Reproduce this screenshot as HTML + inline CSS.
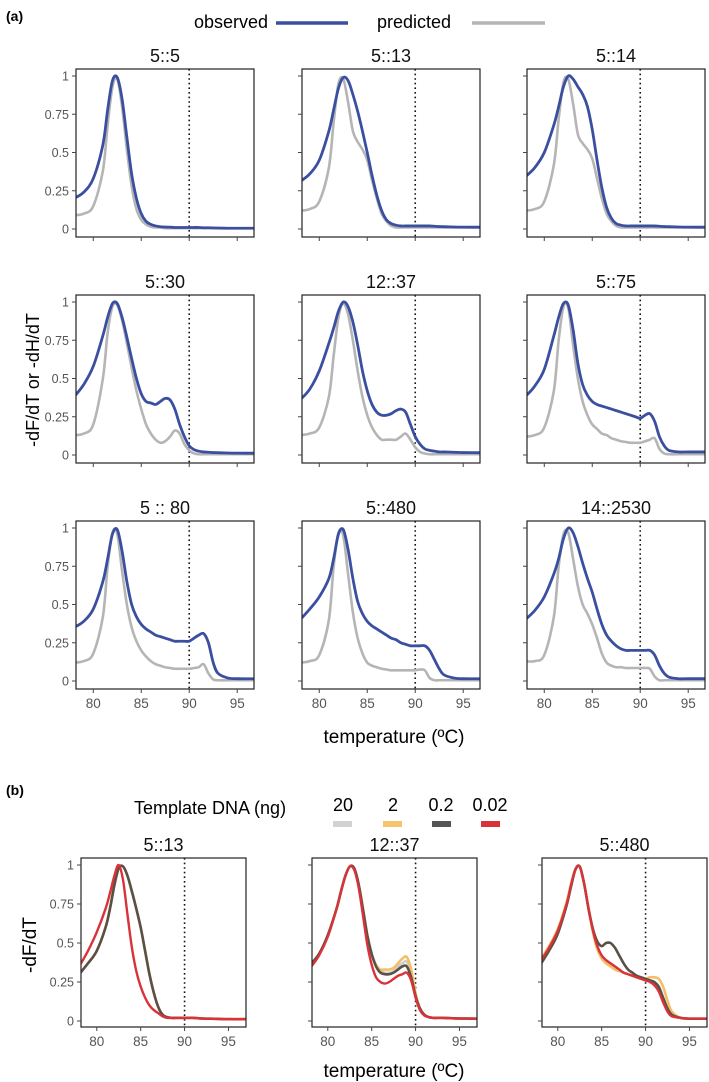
<!DOCTYPE html>
<html><head><meta charset="utf-8">
<style>
body{margin:0;background:#fff;}
svg{display:block;font-family:"Liberation Sans","DejaVu Sans",sans-serif;}
.tk{font-size:12.5px;fill:#555;}
.ttl{font-size:18px;fill:#111;}
</style></head>
<body>
<svg id="fig" width="709" height="1082" viewBox="0 0 709 1082" xmlns="http://www.w3.org/2000/svg">
<text x="6" y="21" font-size="14" font-weight="bold">(a)</text>
<text x="268" y="28" font-size="18" text-anchor="end">observed</text>
<line x1="276" y1="23" x2="348" y2="23" stroke="#3a4fa0" stroke-width="3.5"/>
<text x="377" y="28" font-size="18">predicted</text>
<line x1="472" y1="23" x2="545" y2="23" stroke="#b4b4b4" stroke-width="3.5"/>
<text transform="translate(39,380) rotate(-90)" font-size="18" text-anchor="middle">-dF/dT or -dH/dT</text>
<text x="394" y="743" font-size="19" text-anchor="middle">temperature (ºC)</text>
<text x="6" y="795" font-size="14" font-weight="bold">(b)</text>
<text x="134" y="814" font-size="18">Template DNA (ng)</text>
<g>
<text x="343" y="811" font-size="18" text-anchor="middle">20</text>
<rect x="333" y="821" width="19" height="6" fill="#d2d2d2"/>
<text x="393" y="811" font-size="18" text-anchor="middle">2</text>
<rect x="383" y="821" width="19" height="6" fill="#f6c36e"/>
<text x="441" y="811" font-size="18" text-anchor="middle">0.2</text>
<rect x="432" y="821" width="19" height="6" fill="#555555"/>
<text x="490" y="811" font-size="18" text-anchor="middle">0.02</text>
<rect x="481" y="821" width="19" height="6" fill="#d8323a"/>
</g>
<text transform="translate(36,945) rotate(-90)" font-size="19" text-anchor="middle">-dF/dT</text>
<text x="394" y="1077" font-size="19" text-anchor="middle">temperature (ºC)</text>
</svg>
<script>
const T = [78,79,80,81,81.5,82,82.5,83,83.5,84,84.5,85,85.5,86,86.5,87,87.5,88,88.5,89,89.5,90,90.5,91,91.5,92,92.5,93,94,95,97];
const yTicks = [0,0.25,0.5,0.75,1];
const yTickLabels = ["0","0.25","0.5","0.75","1"];
const xTicks = [80,85,90,95];
const xTickLabels = ["80","85","90","95"];
const titlesA = ["5::5","5::13","5::14","5::30","12::37","5::75","5 :: 80","5::480","14::2530"];
const obsA = [
[.20,.24,.33,.55,.78,.97,.99,.85,.60,.36,.20,.10,.05,.03,.02,.015,.013,.012,.01,.01,.01,.01,.01,.01,.008,.008,.007,.006,.005,.005,.005],
[.31,.36,.45,.64,.78,.92,.99,.97,.88,.77,.64,.50,.35,.22,.12,.06,.035,.025,.02,.02,.02,.02,.02,.02,.02,.018,.016,.015,.013,.012,.012],
[.34,.40,.50,.68,.80,.93,1,.98,.93,.88,.80,.65,.45,.27,.14,.07,.035,.025,.02,.02,.02,.02,.02,.02,.02,.018,.016,.015,.013,.012,.012],
[.38,.46,.58,.78,.90,.99,.99,.90,.77,.63,.50,.40,.35,.34,.33,.35,.37,.36,.30,.20,.12,.06,.035,.025,.02,.018,.016,.015,.013,.012,.012],
[.36,.43,.55,.73,.83,.94,1,.97,.87,.72,.55,.42,.33,.28,.26,.26,.27,.29,.30,.28,.20,.12,.07,.04,.03,.025,.02,.02,.018,.016,.015],
[.38,.45,.56,.78,.90,.99,.98,.82,.60,.46,.39,.35,.33,.32,.31,.30,.29,.28,.27,.26,.25,.24,.26,.27,.22,.12,.06,.03,.02,.02,.02],
[.35,.39,.47,.65,.80,.96,.99,.85,.65,.50,.42,.37,.34,.32,.30,.29,.28,.27,.26,.26,.26,.26,.28,.30,.31,.25,.12,.05,.02,.015,.015],
[.40,.47,.55,.67,.80,.96,.99,.86,.67,.52,.44,.39,.36,.34,.32,.30,.28,.27,.25,.24,.23,.23,.23,.23,.20,.14,.08,.04,.02,.015,.015],
[.40,.46,.55,.70,.80,.93,1,.97,.88,.77,.67,.58,.47,.37,.30,.26,.23,.21,.20,.20,.20,.20,.20,.20,.17,.10,.05,.025,.015,.015,.015]
];
const predA = [
[.09,.10,.15,.38,.68,.93,.98,.80,.52,.28,.13,.06,.03,.015,.01,.01,.005,.005,.005,.005,.005,.005,.005,.005,.005,.005,.005,.005,.005,.005,.005],
[.12,.13,.18,.40,.70,.95,.98,.83,.64,.57,.52,.45,.32,.20,.10,.05,.02,.01,.01,.01,.01,.01,.01,.01,.01,.01,.01,.01,.01,.01,.01],
[.12,.13,.18,.42,.72,.96,.98,.82,.62,.56,.52,.46,.33,.20,.10,.05,.02,.01,.01,.01,.01,.01,.01,.01,.01,.01,.01,.01,.01,.01,.01],
[.13,.14,.20,.50,.80,.97,.98,.88,.73,.57,.42,.30,.20,.14,.10,.08,.09,.12,.16,.14,.07,.03,.01,.005,.005,.005,.005,.005,.005,.005,.005],
[.13,.14,.18,.38,.65,.90,.99,.92,.75,.55,.38,.26,.18,.13,.10,.10,.10,.10,.12,.14,.10,.05,.02,.01,.005,.005,.005,.005,.005,.005,.005],
[.12,.13,.18,.42,.75,.97,.96,.72,.50,.35,.26,.20,.17,.14,.13,.11,.10,.09,.085,.08,.08,.08,.09,.10,.11,.04,.01,.005,.005,.005,.005],
[.12,.13,.18,.42,.75,.97,.96,.72,.50,.35,.26,.20,.16,.13,.11,.10,.09,.085,.08,.08,.08,.08,.085,.09,.11,.05,.01,.005,.005,.005,.005],
[.12,.13,.17,.40,.75,.97,.95,.70,.45,.28,.18,.12,.10,.09,.08,.075,.07,.07,.07,.07,.07,.07,.075,.07,.02,.005,.005,.005,.005,.005,.005],
[.13,.13,.17,.42,.75,.96,.97,.80,.62,.50,.44,.37,.28,.18,.12,.10,.09,.09,.085,.085,.085,.085,.085,.08,.03,.005,.005,.005,.005,.005,.005]
];
const titlesB = ["5::13","12::37","5::480"];
const amountLabels = ["20","2","0.2","0.02"];
const ser20 = [
[.30,.37,.45,.60,.72,.87,.98,.99,.93,.83,.72,.60,.45,.30,.18,.09,.04,.025,.02,.02,.02,.02,.02,.02,.018,.016,.015,.015,.013,.012,.012],
[.36,.43,.55,.72,.83,.93,.99,.98,.88,.72,.55,.43,.36,.32,.31,.31,.32,.35,.37,.38,.30,.17,.08,.04,.025,.02,.02,.02,.018,.016,.015],
[.37,.46,.57,.75,.87,.97,.99,.88,.72,.58,.48,.42,.39,.37,.35,.33,.31,.30,.29,.28,.27,.26,.26,.25,.21,.14,.07,.035,.02,.015,.015]
];
const ser2 = [
[.30,.37,.45,.60,.72,.87,.98,.99,.93,.83,.72,.60,.45,.30,.18,.09,.04,.025,.02,.02,.02,.02,.02,.02,.018,.016,.015,.015,.013,.012,.012],
[.36,.43,.55,.72,.83,.93,.99,.98,.88,.72,.55,.43,.36,.33,.33,.33,.34,.37,.40,.41,.33,.18,.08,.04,.025,.02,.02,.02,.018,.016,.015],
[.39,.48,.59,.76,.88,.97,.99,.88,.72,.57,.46,.40,.37,.35,.33,.32,.31,.30,.29,.28,.27,.27,.28,.28,.27,.22,.13,.06,.02,.015,.015]
];
const ser02 = [
[.30,.37,.45,.60,.72,.87,.98,.99,.93,.83,.72,.60,.45,.30,.18,.09,.04,.025,.02,.02,.02,.02,.02,.02,.018,.016,.015,.015,.013,.012,.012],
[.36,.43,.55,.72,.83,.93,.99,.98,.88,.72,.55,.43,.35,.31,.30,.30,.31,.33,.35,.35,.28,.16,.08,.04,.025,.02,.02,.02,.018,.016,.015],
[.36,.45,.56,.74,.86,.97,.99,.88,.72,.59,.51,.48,.50,.50,.47,.42,.37,.33,.31,.29,.28,.27,.26,.25,.22,.15,.08,.04,.02,.015,.015]
];
const ser002 = [
[.35,.45,.57,.72,.82,.93,1,.90,.68,.47,.32,.22,.15,.10,.07,.05,.03,.02,.02,.02,.02,.02,.02,.02,.018,.016,.015,.015,.013,.012,.012],
[.34,.42,.54,.72,.83,.93,.99,.97,.86,.68,.49,.36,.28,.25,.24,.25,.27,.29,.30,.31,.26,.15,.07,.035,.025,.02,.02,.02,.018,.016,.015],
[.38,.47,.58,.75,.87,.97,.99,.88,.72,.58,.48,.42,.39,.37,.35,.33,.31,.30,.29,.28,.27,.26,.25,.23,.19,.12,.06,.03,.02,.015,.015]
];

const svg = document.getElementById('fig');
const NS = 'http://www.w3.org/2000/svg';
function mk(tag, attrs, parent){const e=document.createElementNS(NS,tag);for(const k in attrs)e.setAttribute(k,attrs[k]);(parent||svg).appendChild(e);return e;}
function pathD(xs, ys){
  const p = xs.map((x,i)=>[x,ys[i]]);
  let d = 'M'+p[0][0].toFixed(2)+','+p[0][1].toFixed(2);
  for(let i=0;i<p.length-1;i++){
    const p0=p[Math.max(0,i-1)],p1=p[i],p2=p[i+1],p3=p[Math.min(p.length-1,i+2)];
    const c1x=p1[0]+(p2[0]-p0[0])/6,c1y=p1[1]+(p2[1]-p0[1])/6;
    const c2x=p2[0]-(p3[0]-p1[0])/6,c2y=p2[1]-(p3[1]-p1[1])/6;
    d+=' C'+c1x.toFixed(2)+','+c1y.toFixed(2)+' '+c2x.toFixed(2)+','+c2y.toFixed(2)+' '+p2[0].toFixed(2)+','+p2[1].toFixed(2);
  }
  return d;
}
function panel(x0,y0,w,h,y1off,y0off,xmax,title,showY,showX,series,name){
  const g = mk('g',{});
  
  
  const xmin=78.2;
  const sx = v => x0 + (v-xmin)/(xmax-xmin)*w;
  const sy = v => y0 + y0off - v*(y0off-y1off);
  const clipId = 'c'+name;
  const cp = mk('clipPath',{id:clipId},g);
  mk('rect',{x:x0,y:y0,width:w,height:h},cp);
  const t = mk('text',{x:x0+w/2,y:y0-7,'text-anchor':'middle',class:'ttl'},g);
  t.textContent = title;
  
  
  const dl = mk('line',{x1:sx(90),x2:sx(90),y1:y0,y2:y0+h,stroke:'#111','stroke-width':1.6,'stroke-dasharray':'1.6 3'},g);
  
  
  const cg = mk('g',{'clip-path':'url(#'+clipId+')'},g);
  series.forEach(s=>{
    const pth = mk('path',{d:pathD(T.map(sx), s.v.map(sy)),fill:'none',stroke:s.c,'stroke-width':s.w,'stroke-linejoin':'round'},cg);
    
    
  });
  const fr = mk('rect',{x:x0,y:y0,width:w,height:h,fill:'none',stroke:'#222','stroke-width':1.2},g);
  
  
  yTicks.forEach((v,i)=>{
    mk('line',{x1:x0-4,x2:x0,y1:sy(v),y2:sy(v),stroke:'#444','stroke-width':1},g);
    if(showY){
      const tl = mk('text',{x:x0-7,y:sy(v)+4.5,'text-anchor':'end',class:'tk'},g);
      tl.textContent = yTickLabels[i];
      
      
    }
  });
  xTicks.forEach((v,i)=>{
    mk('line',{x1:sx(v),x2:sx(v),y1:y0+h,y2:y0+h+4,stroke:'#444','stroke-width':1},g);
    if(showX){
      const tl = mk('text',{x:sx(v),y:y0+h+19,'text-anchor':'middle',class:'tk',style:'font-size:13.5px'},g);
      tl.textContent = xTickLabels[i];
      
      
    }
  });
}
const colsA=[76,302,527], rowsA=[69,295,521];
for(let r=0;r<3;r++)for(let c=0;c<3;c++){
  const k=r*3+c;
  panel(colsA[c],rowsA[r],178,168,7,160,96.75,titlesA[k],c===0,r===2,
    [{v:predA[k],c:'#b5b5b5',w:2.6,n:'predicted-line'},{v:obsA[k],c:'#3a4fa0',w:2.8,n:'observed-line'}],
    'panel-a-'+k);
}
const colsB=[81,312,542];
for(let c=0;c<3;c++){
  panel(colsB[c],858,165,169,7,163,97.0,titlesB[c],c===0,true,
    [{v:ser20[c],c:'#cfcfcf',w:2.6,n:'series-20ng'},{v:ser2[c],c:'#f3bf66',w:2.6,n:'series-2ng'},
     {v:ser02[c],c:'#5a5046',w:2.6,n:'series-0.2ng'},{v:ser002[c],c:'#d8323a',w:2.4,n:'series-0.02ng'}],
    'panel-b-'+c);
}
</script>
</body></html>
